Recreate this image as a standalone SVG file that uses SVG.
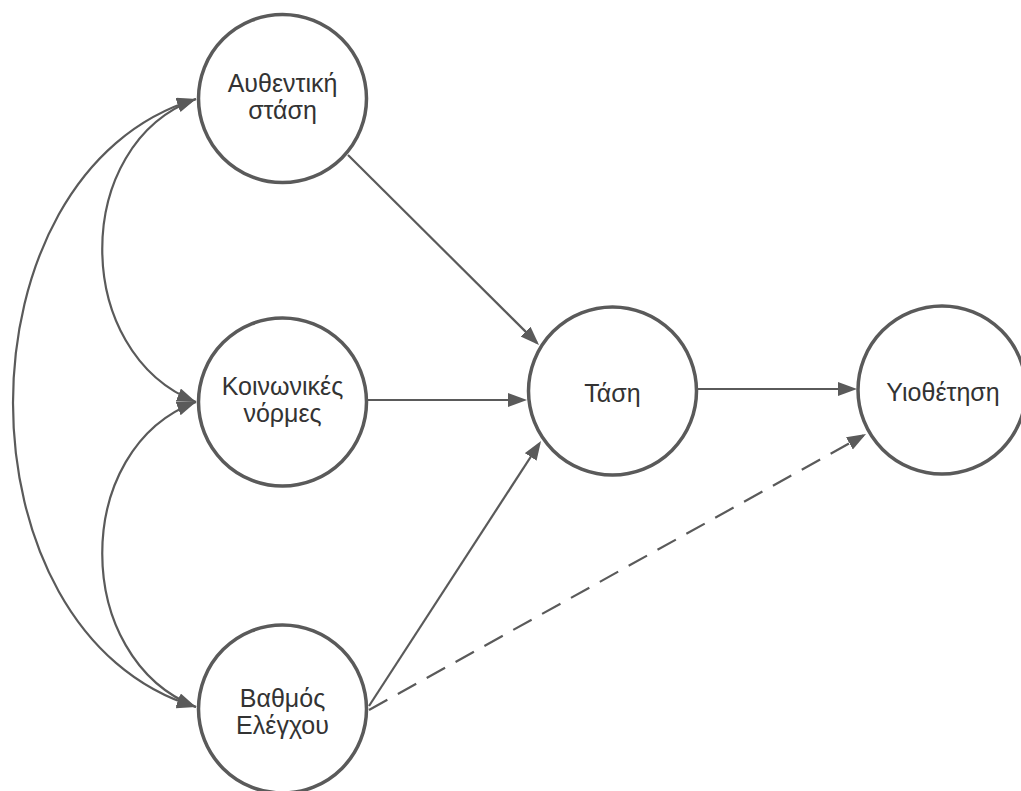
<svg xmlns="http://www.w3.org/2000/svg" width="1021" height="791" viewBox="0 0 1021 791">
  <style>
    .node circle { fill: #ffffff; stroke: #5a5a5a; stroke-width: 3.5; }
    .node text { font-family: "Liberation Sans", Arial, sans-serif; font-size: 25px; fill: #333333; text-anchor: middle; }
    .edge { fill: none; stroke: #5a5a5a; stroke-width: 2.2; }
    .dashed { stroke-dasharray: 21 12; }
  </style>
  <defs>
    <marker id="arrow" markerUnits="userSpaceOnUse" markerWidth="20" markerHeight="16" refX="16" refY="7" orient="auto-start-reverse" viewBox="0 0 20 16">
      <path d="M0,0 L19,7 L0,14 z" fill="#5a5a5a"/>
    </marker>
    <marker id="arrowc" markerUnits="userSpaceOnUse" markerWidth="20" markerHeight="16" refX="19" refY="7" orient="auto-start-reverse" viewBox="0 0 20 16">
      <path d="M0,0 L19,7 L0,14 z" fill="#5a5a5a"/>
    </marker>
  </defs>
  <rect width="1021" height="791" fill="#ffffff"/>

  <g id="connectors">
    <path class="edge" d="M196,99 C71,144 71,353 196,402" marker-start="url(#arrowc)" marker-end="url(#arrowc)"/>
    <path class="edge" d="M196,402 C71,448 71,658 196,707" marker-start="url(#arrowc)" marker-end="url(#arrowc)"/>
    <path class="edge" d="M196,99 C-48,172 -48,634 196,707" marker-start="url(#arrowc)" marker-end="url(#arrowc)"/>
    <path class="edge" d="M348,155 L536.9,342.9" marker-end="url(#arrow)"/>
    <path class="edge" d="M368,400 L524,400" marker-end="url(#arrow)"/>
    <path class="edge" d="M369,706 L539.4,443.5" marker-end="url(#arrow)"/>
    <path class="edge" d="M698,389 L854,389" marker-end="url(#arrow)"/>
    <path class="edge dashed" d="M369,710 L863.4,435.5" marker-end="url(#arrow)"/>
  </g>

  <g id="node-afthentiki" class="node">
    <circle cx="282.5" cy="98.5" r="84"/>
    <text x="282.5" y="92">Αυθεντική</text>
    <text x="282.5" y="119">στάση</text>
  </g>
  <g id="node-koinonikes" class="node">
    <circle cx="282.5" cy="402" r="84"/>
    <text x="282.5" y="395">Κοινωνικές</text>
    <text x="282.5" y="422">νόρμες</text>
  </g>
  <g id="node-vathmos" class="node">
    <circle cx="282.5" cy="709" r="84"/>
    <text x="282.5" y="706.5">Βαθμός</text>
    <text x="282.5" y="733.5">Ελέγχου</text>
  </g>
  <g id="node-tasi" class="node">
    <circle cx="612.5" cy="391" r="84"/>
    <text x="612.5" y="401.5">Τάση</text>
  </g>
  <g id="node-yiothetisi" class="node">
    <circle cx="942" cy="390" r="84"/>
    <text x="943" y="401">Υιοθέτηση</text>
  </g>
</svg>
